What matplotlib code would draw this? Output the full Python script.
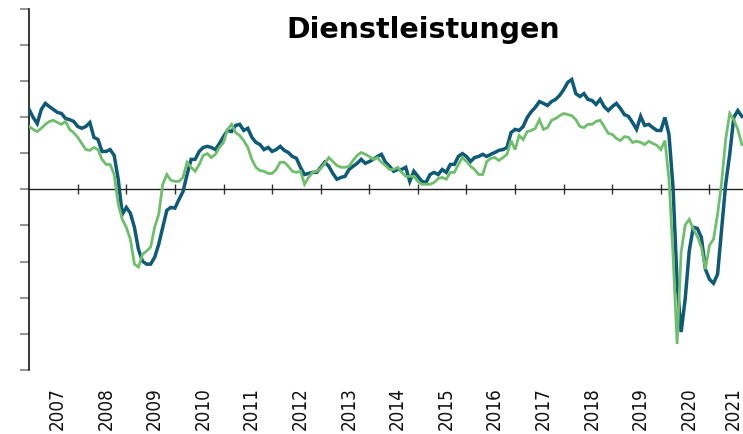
import numpy as np
import matplotlib
matplotlib.use('Agg')
import matplotlib.pyplot as plt
from matplotlib import font_manager

# monthly values from Jan 2007
dark = [22.1, 19.9, 18.2, 22.1, 23.8, 22.9, 22.1, 21.3, 21.0, 19.6, 19.3, 18.8,
        17.4, 16.9, 17.4, 18.5, 14.4, 13.8, 10.5, 10.5, 11.0, 9.4, 2.8, -6.9,
        -5.0, -6.6, -10.5, -16.6, -19.9, -20.7, -20.7, -18.8, -15.2, -10.5, -5.8, -5.0,
        -5.2, -2.8, -0.6, 4.1, 8.3, 8.3, 10.5, 11.6, 11.9, 11.6, 11.0, 12.7,
        14.6, 16.3, 16.0, 17.7, 18.0, 16.3, 16.9, 14.4, 13.0, 12.4, 11.0, 11.6,
        10.5, 11.0, 11.9, 10.8, 10.2, 9.1, 8.6, 6.1, 4.1, 4.4, 4.7, 4.7,
        6.1, 7.5, 6.4, 4.4, 2.8, 3.3, 3.6, 5.5, 6.4, 7.2, 8.3, 7.2,
        7.7, 8.3, 9.1, 9.7, 7.5, 6.4, 5.0, 5.5, 5.5, 6.1, 2.2, 5.0,
        3.6, 2.2, 1.9, 4.1, 4.7, 4.1, 5.5, 4.7, 6.9, 6.9, 9.1, 9.9,
        9.1, 7.7, 8.8, 9.1, 9.7, 9.1, 9.7, 10.2, 10.8, 11.0, 11.6, 15.7,
        16.6, 16.3, 17.4, 19.9, 21.5, 22.7, 24.3, 23.8, 23.2, 24.3, 24.9, 26.0,
        27.6, 29.6, 30.4, 26.5, 25.7, 26.5, 24.9, 24.6, 23.5, 24.9, 22.9, 21.8,
        22.9, 23.8, 22.4, 20.7, 20.2, 18.5, 16.6, 20.2, 17.7, 18.0, 17.1, 16.3,
        16.3, 19.9, 15.2, 0.6, -25.7, -39.5, -30.4, -17.1, -10.5, -10.8, -13.3, -22.1,
        -24.9, -26.0, -23.5, -11.0, 1.4, 9.7, 19.9, 21.8, 20.2]

green = [17.4, 16.6, 16.0, 16.9, 18.0, 18.8, 19.1, 18.5, 18.0, 18.8, 16.6, 15.7,
         14.4, 12.7, 11.0, 10.8, 11.6, 11.0, 8.3, 6.9, 6.9, 4.1, -4.1, -8.3,
         -10.5, -13.8, -20.7, -21.5, -18.0, -17.1, -16.0, -10.5, -6.9, 1.4, 4.1, 2.5,
         2.2, 2.2, 3.3, 7.5, 6.1, 5.0, 6.9, 9.4, 9.9, 8.8, 9.7, 11.6,
         13.0, 16.6, 18.0, 15.7, 14.9, 13.5, 11.6, 8.3, 6.1, 5.2, 5.0, 4.4,
         4.4, 5.5, 7.5, 7.5, 6.4, 5.0, 4.7, 5.0, 1.4, 3.3, 4.7, 5.0,
         5.8, 7.2, 8.8, 7.7, 6.6, 6.1, 6.1, 6.4, 8.0, 9.4, 10.2, 9.7,
         9.1, 8.3, 8.8, 7.5, 6.6, 5.5, 5.5, 6.1, 4.7, 3.6, 3.6, 3.6,
         2.2, 1.4, 1.4, 1.4, 1.9, 3.0, 3.3, 2.8, 4.7, 4.7, 6.9, 8.8,
         7.7, 6.4, 5.5, 4.1, 4.1, 7.7, 8.6, 8.8, 8.0, 8.8, 9.7, 13.5,
         11.0, 14.9, 13.8, 16.0, 16.3, 16.9, 19.3, 16.6, 17.1, 19.1, 19.6, 20.4,
         21.0, 20.7, 20.4, 19.3, 17.4, 17.1, 18.0, 18.0, 18.8, 19.1, 17.4, 15.5,
         15.2, 14.1, 13.5, 14.6, 14.4, 13.0, 13.3, 13.0, 12.4, 13.3, 12.7, 12.2,
         11.0, 13.5, 2.8, -18.0, -42.8, -17.4, -9.9, -8.3, -11.0, -13.0, -16.0, -22.1,
         -15.5, -13.8, -6.9, 1.9, 13.8, 21.0, 19.3, 16.6, 12.4]

years = list(range(2007, 2022))
title = 'Dienstleistungen'

DARK_COLOR = '#0e5a77'
GREEN_COLOR = '#6fbe6c'

# pick a narrow font for the year labels if one exists
names = {f.name for f in font_manager.fontManager.ttflist}
if 'Liberation Sans Narrow' in names:
    label_kw = dict(family='Liberation Sans Narrow', fontsize=17)
else:
    label_kw = dict(family='DejaVu Sans', fontstretch='condensed', fontsize=13.5)

x_dark = [2007 + i / 12 for i in range(len(dark))]
x_green = [2007 + i / 12 for i in range(len(green))]

fig = plt.figure(figsize=(7.43, 4.35), dpi=100)
ax = fig.add_axes([0.0392, 0.1471, 0.9608, 0.8306])

ax.plot(x_dark, dark, color=DARK_COLOR, lw=2.5, solid_joinstyle='miter', zorder=3)
ax.plot(x_green, green, color=GREEN_COLOR, lw=2.0, solid_joinstyle='miter', zorder=4)

ax.set_xlim(2007, 2021.69)
ax.set_ylim(-50, 50)

for side in ['top', 'right']:
    ax.spines[side].set_visible(False)
ax.spines['bottom'].set_position(('data', 0))
ax.spines['bottom'].set_color('#222222')
ax.spines['bottom'].set_linewidth(1.0)
ax.spines['left'].set_color('black')
ax.spines['left'].set_linewidth(1.1)

ax.set_xticks(years[1:])
ax.set_xticklabels([])
ax.tick_params(axis='x', direction='inout', length=7.5, width=1.0, color='#333333')

ax.set_yticks(np.arange(-50, 51, 10))
ax.set_yticklabels([])
ax.tick_params(axis='y', direction='out', length=6.5, width=1.1, color='#777777')

for yr in years:
    # last label sits at the right edge, keep it inside the figure
    offset = 0.58 if yr < years[-1] else 0.48
    ax.text(yr + offset, -0.044, str(yr), transform=ax.get_xaxis_transform(),
            rotation=90, ha='center', va='top', color='#111111', clip_on=False,
            **label_kw)

fig.text(423 / 743, 1 - 30 / 435, title, ha='center', va='center',
         fontsize=20.5, fontweight='bold', color='black')

fig.savefig('out.png', dpi=100)
